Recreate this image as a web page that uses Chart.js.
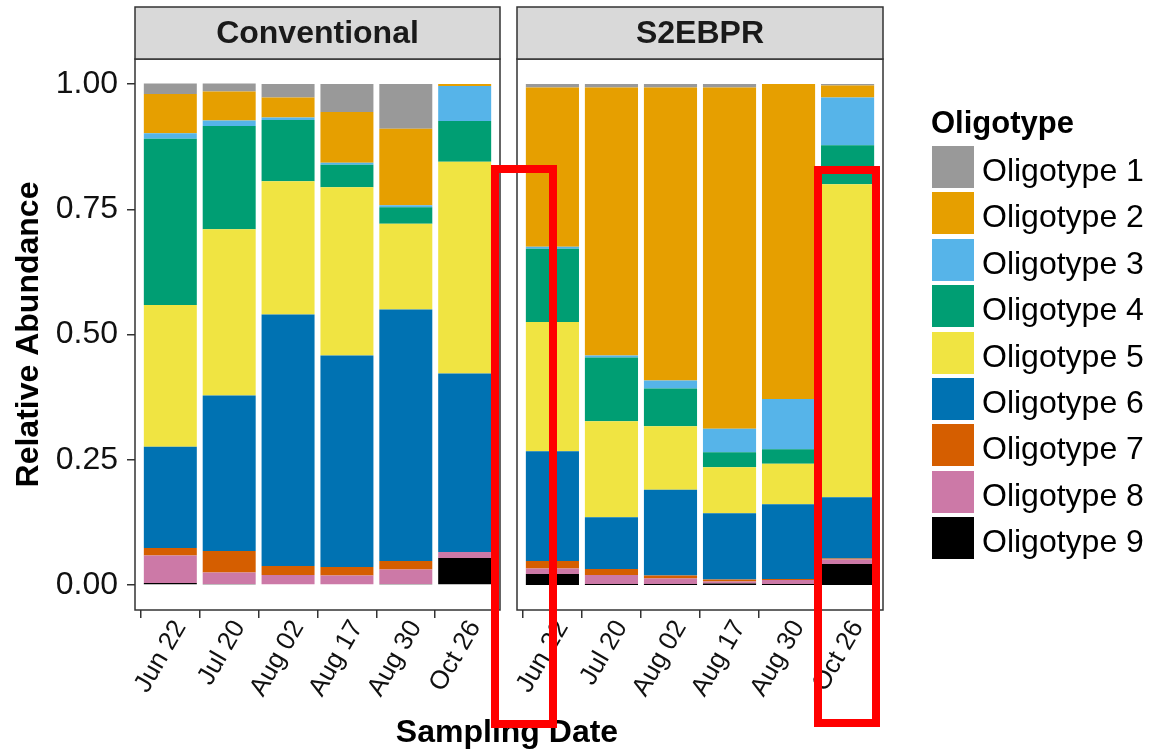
<!DOCTYPE html>
<html>
<head>
<meta charset="utf-8">
<title>Oligotype relative abundance</title>
<script src="https://cdn.jsdelivr.net/npm/chart.js@4.4.1/dist/chart.umd.min.js"></script>
<style>
  html, body { margin: 0; padding: 0; background: #ffffff; }
  #wrap { position: relative; width: 1150px; height: 750px; overflow: hidden;
          font-family: "Liberation Sans", Arial, Helvetica, sans-serif; color: #000; }
  #wrap canvas { position: absolute; left: 0; top: 0; }
  .xtitle { position: absolute; left: 307px; width: 400px; top: 715px; line-height: 32px;
            text-align: center; font-weight: bold; font-size: 32px; }
  .legend-title { position: absolute; left: 931px; top: 107px; line-height: 31px;
                  font-weight: bold; font-size: 31px; }
  .legend-key { position: absolute; left: 932px; width: 42px; height: 42px; }
  .legend-label { position: absolute; left: 982px; height: 42px; line-height: 42px;
                  font-size: 32px; white-space: nowrap; }
  .mark { position: absolute; box-sizing: border-box; border: 8px solid #ff0000; z-index: 10; }
</style>
</head>
<body>
<div id="wrap">
  <canvas id="panelConventional" width="1150" height="750"></canvas>
  <canvas id="panelS2EBPR" width="1150" height="750"></canvas>
  <div class="xtitle">Sampling Date</div>
  <div id="legend"></div>
  <div class="mark" style="left:491px; top:165px; width:66px; height:563px;"></div>
  <div class="mark" style="left:814px; top:166px; width:66px; height:561px;"></div>
</div>
<script>
// Sampling dates shared by both reactor configurations
const dates = ['Jun 22', 'Jul 20', 'Aug 02', 'Aug 17', 'Aug 30', 'Oct 26'];
const panelTitles = ['Conventional', 'S2EBPR'];
const yTicks = [0, 0.25, 0.5, 0.75, 1];
const oligotypes = ['Oligotype 1', 'Oligotype 2', 'Oligotype 3', 'Oligotype 4', 'Oligotype 5',
                    'Oligotype 6', 'Oligotype 7', 'Oligotype 8', 'Oligotype 9'];
const palette = ['#999999', '#E69F00', '#56B4E9', '#009E73', '#F0E442',
                 '#0072B2', '#D55E00', '#CC79A7', '#000000'];

// Relative abundance, one row per oligotype (1..9), one column per sampling date
const conventional = [
  [0.021, 0.016, 0.027, 0.056, 0.089, 0.000],
  [0.078, 0.058, 0.040, 0.101, 0.153, 0.004],
  [0.011, 0.011, 0.005, 0.004, 0.004, 0.070],
  [0.332, 0.206, 0.122, 0.045, 0.033, 0.081],
  [0.283, 0.332, 0.266, 0.336, 0.171, 0.423],
  [0.202, 0.310, 0.502, 0.422, 0.502, 0.356],
  [0.015, 0.043, 0.018, 0.017, 0.017, 0.000],
  [0.055, 0.023, 0.020, 0.019, 0.029, 0.012],
  [0.004, 0.002, 0.000, 0.000, 0.002, 0.054]
];
const s2ebpr = [
  [0.007, 0.007, 0.007, 0.007, 0.000, 0.003],
  [0.318, 0.535, 0.585, 0.681, 0.629, 0.024],
  [0.004, 0.004, 0.016, 0.047, 0.100, 0.095],
  [0.146, 0.127, 0.075, 0.030, 0.029, 0.078],
  [0.258, 0.192, 0.127, 0.092, 0.081, 0.625],
  [0.219, 0.103, 0.171, 0.132, 0.149, 0.122],
  [0.015, 0.012, 0.006, 0.004, 0.002, 0.002],
  [0.011, 0.018, 0.011, 0.004, 0.008, 0.009],
  [0.022, 0.002, 0.002, 0.003, 0.002, 0.042]
];

const FONT = '"Liberation Sans", Arial, Helvetica, sans-serif';
Chart.defaults.font.family = FONT;
Chart.defaults.color = '#000';

// Oligotype 9 sits at the bottom of each stack, Oligotype 1 on top
function buildDatasets(rows) {
  return rows.map((vals, k) => ({
    label: oligotypes[k],
    data: vals.map((v, i) => ({ x: i + 1, y: v })),
    backgroundColor: palette[k],
    borderWidth: 0,
    barPercentage: 0.9,
    categoryPercentage: 1.0,
    stack: 'abundance'
  })).reverse();
}

// Panel border plus the grey facet strip with its title
const panelFrame = {
  id: 'panelFrame',
  afterDatasetsDraw(chart, args, opts) {
    const { ctx, chartArea: a } = chart;
    const stripTop = 7;
    ctx.save();
    ctx.lineWidth = 1.5;
    ctx.strokeStyle = '#333333';
    ctx.strokeRect(a.left, a.top, a.right - a.left, a.bottom - a.top);
    ctx.fillStyle = '#D9D9D9';
    ctx.fillRect(a.left, stripTop, a.right - a.left, a.top - stripTop);
    ctx.strokeRect(a.left, stripTop, a.right - a.left, a.top - stripTop);
    ctx.fillStyle = '#1A1A1A';
    ctx.font = 'bold 32px ' + FONT;
    ctx.textAlign = 'center';
    ctx.textBaseline = 'middle';
    ctx.fillText(opts.title, (a.left + a.right) / 2, (stripTop + a.top) / 2 + 1);
    ctx.restore();
  }
};

function makePanel(canvasId, rows, title, area, showY) {
  return new Chart(document.getElementById(canvasId), {
    type: 'bar',
    data: { datasets: buildDatasets(rows) },
    plugins: [panelFrame],
    options: {
      responsive: false,
      animation: false,
      devicePixelRatio: 1,
      layout: { padding: { left: showY ? 0 : area.left, right: 1150 - area.right, top: area.top, bottom: 0 } },
      plugins: {
        legend: { display: false },
        tooltip: { enabled: false },
        panelFrame: { title: title }
      },
      scales: {
        x: {
          type: 'linear',
          min: 0.4,
          max: 6.6,
          offset: false,
          stacked: true,
          afterBuildTicks: s => { s.ticks = dates.map((_, i) => ({ value: i + 1 })); },
          afterFit: s => { s.height = 750 - area.bottom; },
          ticks: {
            autoSkip: false,
            minRotation: 60,
            maxRotation: 60,
            padding: -3,
            labelOffset: 10,
            color: '#111',
            font: { size: 26 },
            callback: v => dates[v - 1]
          },
          grid: { drawOnChartArea: false, drawTicks: true, tickLength: 8, tickColor: '#333', lineWidth: 1.5 },
          border: { display: false }
        },
        y: {
          display: showY,
          min: -0.05,
          max: 1.05,
          stacked: true,
          afterBuildTicks: s => { s.ticks = yTicks.map(v => ({ value: v })); },
          afterFit: s => { s.width = showY ? area.left : 0; },
          ticks: {
            padding: 9,
            color: '#111',
            font: { size: 32 },
            callback: v => v.toFixed(2)
          },
          title: {
            display: true,
            text: 'Relative Abundance',
            color: '#000',
            font: { size: 32, weight: 'bold' },
            padding: { top: 10, bottom: 0 }
          },
          grid: { drawOnChartArea: false, drawTicks: true, tickLength: 8, tickColor: '#333', lineWidth: 1.5 },
          border: { display: false }
        }
      }
    }
  });
}

makePanel('panelConventional', conventional, panelTitles[0], { left: 135, right: 500, top: 59, bottom: 610 }, true);
makePanel('panelS2EBPR', s2ebpr, panelTitles[1], { left: 517, right: 883, top: 59, bottom: 610 }, false);

// Legend built from the same names and colours as the bar series
const legend = document.getElementById('legend');
const legendTitle = document.createElement('div');
legendTitle.className = 'legend-title';
legendTitle.textContent = 'Oligotype';
legend.appendChild(legendTitle);
oligotypes.forEach((name, k) => {
  const top = 146 + k * 46.4;
  const key = document.createElement('div');
  key.className = 'legend-key';
  key.style.top = top + 'px';
  key.style.background = palette[k];
  legend.appendChild(key);
  const label = document.createElement('div');
  label.className = 'legend-label';
  label.style.top = (top + 3) + 'px';
  label.textContent = name;
  legend.appendChild(label);
});
</script>
</body>
</html>
